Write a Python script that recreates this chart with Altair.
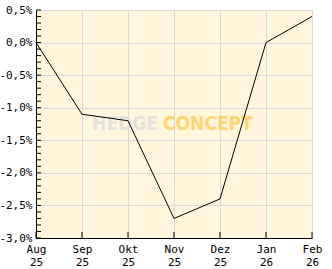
import altair as alt
import pandas as pd

months = ["Aug 25", "Sep 25", "Okt 25", "Nov 25", "Dez 25", "Jan 26", "Feb 26"]
values = [0.0, -1.1, -1.2, -2.7, -2.4, 0.0, 0.4]
major_ticks = [-3.0, -2.5, -2.0, -1.5, -1.0, -0.5, 0.0, 0.5]
minor_ticks = [round(-3.0 + 0.1 * i, 1) for i in range(36)]

df = pd.DataFrame({"month": months, "value": values})
df_minor = pd.DataFrame({"value": minor_ticks})

W, H = 276, 228
FONT = "DejaVu Sans Mono"

x_enc = alt.X(
    "month:O",
    sort=months,
    scale=alt.Scale(type="point", padding=0),
    axis=alt.Axis(
        title=None,
        labelAngle=0,
        labelExpr="split(datum.label, ' ')",
        labelFont=FONT,
        labelFontSize=11,
        labelColor="#000000",
        labelPadding=5,
        labelLineHeight=13,
        ticks=False,
        domainColor="#000000",
        domainWidth=1,
        grid=True,
        gridColor="#d9d9d9",
        gridWidth=1,
    ),
)
y_scale = alt.Scale(domain=[-3.0, 0.5], nice=False, zero=False)
y_enc = alt.Y(
    "value:Q",
    scale=y_scale,
    axis=alt.Axis(
        title=None,
        values=major_ticks,
        labelExpr="(datum.value < 0 ? '-' : '') + replace(format(abs(datum.value), '.1f'), '.', ',') + '%'",
        labelFont=FONT,
        labelFontSize=11,
        labelColor="#000000",
        labelPadding=4,
        ticks=False,
        domainColor="#000000",
        domainWidth=1,
        grid=True,
        gridColor="#d9d9d9",
        gridWidth=1,
    ),
)

line = alt.Chart(df).mark_line(color="#000000", strokeWidth=1).encode(x=x_enc, y=y_enc)

minor = alt.Chart(df_minor).mark_rule(color="#000000", strokeWidth=1).encode(
    y=y_enc,
    x=alt.value(0),
    x2=alt.value(5),
)

xticks = alt.Chart(df).mark_rule(color="#000000", strokeWidth=1).encode(
    x=x_enc,
    y=alt.value(H - 6),
    y2=alt.value(H),
)

WM_FONT = "Liberation Sans Narrow, DejaVu Sans Condensed, Liberation Sans"
wm1 = alt.Chart(df.head(1)).mark_text(
    text="HEDGE", font=WM_FONT, fontSize=19, fontWeight="bold",
    color="#dedede", opacity=0.8, align="right", baseline="middle",
).encode(x=alt.value(122), y=alt.value(114))
wm2 = alt.Chart(df.head(1)).mark_text(
    text="CONCEPT", font=WM_FONT, fontSize=19, fontWeight="bold",
    color="#ffcc55", opacity=0.75, align="left", baseline="middle",
).encode(x=alt.value(127), y=alt.value(114))

chart = alt.layer(wm1, wm2, line, minor, xticks).properties(
    width=W, height=H,
    background="#ffffff",
    padding={"left": 36, "top": 10, "right": 20, "bottom": 31},
    autosize=alt.AutoSizeParams(type="none"),
).configure_view(fill="#fff6dc", stroke=None)

chart.save("out.html", embed_options={"renderer": "svg", "actions": False})
